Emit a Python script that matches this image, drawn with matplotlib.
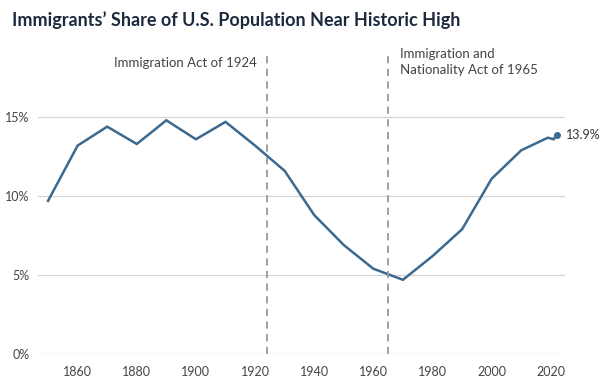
import matplotlib
matplotlib.use("Agg")
import matplotlib.pyplot as plt

years = [1850, 1860, 1870, 1880, 1890, 1900, 1910, 1920, 1930, 1940, 1950,
         1960, 1970, 1980, 1990, 2000, 2010, 2019, 2021, 2022]
share = [9.7, 13.2, 14.4, 13.3, 14.8, 13.6, 14.7, 13.2, 11.6, 8.8, 6.9,
         5.4, 4.7, 6.2, 7.9, 11.1, 12.9, 13.7, 13.6, 13.9]
x_ticks = [1860, 1880, 1900, 1920, 1940, 1960, 1980, 2000, 2020]
y_ticks = [0, 5, 10, 15]
events = [1924, 1965]

plt.rcParams['font.family'] = ['Lato', 'DejaVu Sans']

fig = plt.figure(figsize=(6.12, 3.84), dpi=100)
ax = fig.add_axes([38/612, 30/384, (565-38)/612, 300/384])

line_col = '#3b6990'
ax.plot(years, share, color=line_col, lw=1.8, solid_joinstyle='miter')
ax.plot(years[-1], share[-1], 'o', color=line_col, ms=4)
ax.text(years[-1] + 3, share[-1], '13.9%', fontsize=9, color='#333333', va='center')

for e in events:
    ax.axvline(e, color='#999999', lw=1.3, ls=(0, (4, 3)))

ax.text(1924 - 3.5, 18.45, 'Immigration Act of 1924', ha='right', va='center',
        fontsize=9.5, color='#444444')
ax.text(1965 + 4, 18.5, 'Immigration and\nNationality Act of 1965', ha='left', va='center',
        fontsize=9.5, color='#444444', linespacing=1.35)

ax.set_xlim(1846.6, 2024.8)
ax.set_ylim(0, 19)
ax.set_xticks(x_ticks)
ax.set_yticks(y_ticks)
ax.set_yticklabels([f'{v}%' for v in y_ticks])
ax.grid(axis='y', color='#d4d4d4', lw=0.9)
ax.set_axisbelow(True)
for s in ax.spines.values():
    s.set_visible(False)
ax.tick_params(length=0, labelsize=9, labelcolor='#444444')
ax.tick_params(axis='x', pad=9)
ax.tick_params(axis='y', pad=6)

fig.text(12/612, 1 - 20/384, 'Immigrants\u2019 Share of U.S. Population Near Historic High',
         fontsize=13, fontweight='bold', color='#1b2a3d', va='center')

fig.savefig('out.png', dpi=100, facecolor='white')
